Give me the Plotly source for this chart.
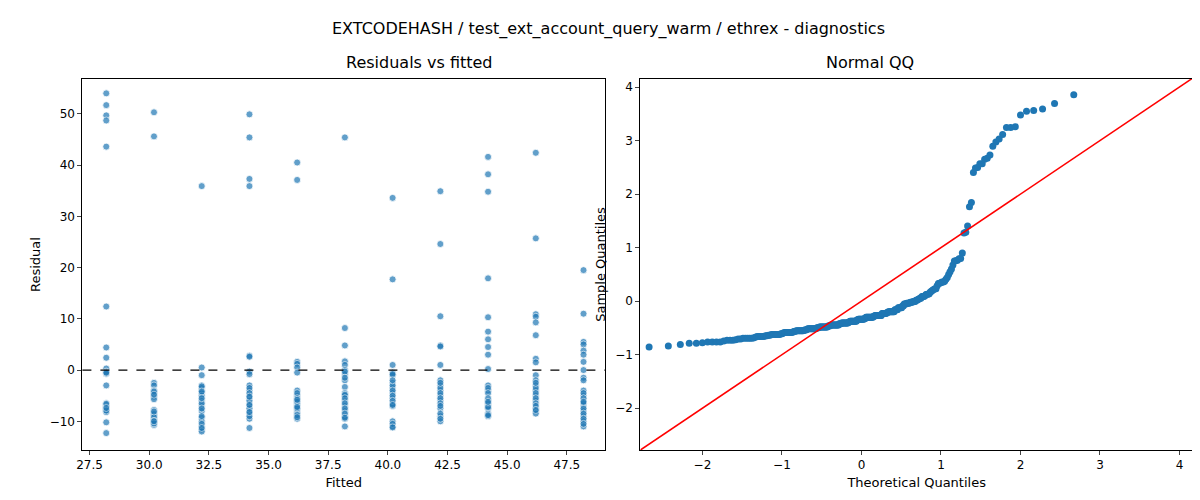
import numpy as np
import plotly.graph_objects as go
from statistics import NormalDist

fitted_levels = [28.2, 30.2, 32.2, 34.2, 36.2, 38.2, 40.2, 42.2, 44.2, 46.2, 48.2]
residual_groups = [
    [54, 51.7, 49.7, 48.7, 43.6, 12.4, 4.4, 2.4, 0.3, -0.3, -0.7, -3, -6.5, -7, -7.5, -8, -10.2, -12.3,
     -6.8, -7.2, -7.7, -8.2, -6.6, -7.9, -0.5, -7.4],
    [50.3, 45.6, -2.5, -3, -4, -4.5, -5.2, -5.7, -7.8, -8.4, -9, -9.7, -10.2, -10.7,
     -4.2, -4.8, -8.6, -9.2, -9.9, -10.4, -10.0, -8.1],
    [35.9, 0.5, -1, -3, -3.5, -4, -4.5, -5, -6, -7, -8, -9.3, -10, -11, -11.6, -12,
     -3.2, -4.2, -6.5, -7.5, -9.0, -10.5, -11.3, -5.5],
    [49.9, 45.4, 37.3, 35.9, 2.8, 2.6, -0.3, -0.8, -3, -4, -5, -5.5, -6.5, -7, -8, -8.5, -9.5, -11.3,
     -3.5, -4.5, -6.0, -7.5, -9.0, -5.2, -6.8, -8.2],
    [40.5, 37.1, 1.6, 1.2, 0.5, -0.5, -4, -5, -6, -6.5, -7, -8, -8.5, -9.5,
     -4.5, -5.5, -6.2, -7.5, -8.8, -9.2, -5.8, -7.2],
    [45.4, 8.2, 4.8, 1.7, 1, 0, -0.8, -2, -3.3, -4.5, -5, -6, -7, -8, -9, -9.5, -11,
     -4.8, -5.5, -6.5, -7.5, -8.5, -9.3, -0.3, -1.5],
    [33.6, 17.7, 1, -0.5, -1, -2.5, -3.5, -4.5, -5.5, -6.5, -7, -10, -11,
     -3.0, -4.0, -5.0, -6.0, -6.8, -10.5, -11.2, -0.8, -2.0],
    [34.9, 24.6, 10.5, 4.8, 1, -2, -3, -4, -5, -6, -7.5, -9, -10,
     -3.5, -4.5, -5.5, -6.5, -7.0, -8.5, -9.5, -2.5, 4.6],
    [41.6, 38.2, 34.8, 17.9, 10.3, 7.5, 6, 4.5, 3, 0.2, -3, -4, -6, -7, -7.5, -8.5, -9,
     -3.5, -4.5, -5.5, -6.5, -7.2, -8.8, -6.2],
    [42.4, 25.7, 10.9, 10.4, 9.3, 6.8, 2.2, 1.5, -1, -2, -3, -4, -5, -6, -7.5, -8, -8.5,
     -3.5, -4.5, -5.5, -6.5, -7.0, -7.8, -2.5],
    [19.5, 11, 5.5, 5, 3.8, 3, 1.6, 0, -1.5, -2, -4, -5, -6, -7, -8, -9, -10, -11,
     -4.5, -5.5, -6.5, -7.5, -8.5, -9.5, -10.5, -6.2],
]

fitted = []
resid = []
for f, g in zip(fitted_levels, residual_groups):
    fitted += [f] * len(g)
    resid += g
resid = np.array(resid, dtype=float)

# Normal QQ from the residuals
z = np.sort((resid - resid.mean()) / resid.std(ddof=1))
n = len(z)
nd = NormalDist()
theo = np.array([nd.inv_cdf((i + 1) / (n + 1)) for i in range(n)])

fig = go.Figure()
fig.add_trace(go.Scatter(x=fitted, y=resid, mode="markers", xaxis="x", yaxis="y",
                         marker=dict(color="#1f77b4", opacity=0.7, size=7,
                                     line=dict(color="white", width=0.8)),
                         showlegend=False))
fig.add_trace(go.Scatter(x=theo, y=z, mode="markers", xaxis="x2", yaxis="y2",
                         marker=dict(color="#1f77b4", size=7), showlegend=False))
fig.add_trace(go.Scatter(x=[-2.78, 4.17], y=[-2.78, 4.17], mode="lines", xaxis="x2", yaxis="y2",
                         line=dict(color="red", width=1.6), showlegend=False))

ax = dict(showgrid=False, zeroline=False, showline=True, linecolor="black", mirror=True,
          ticks="outside", ticklen=4, tickfont=dict(size=12, color="black"), automargin=False)
fig.update_layout(
    width=1200, height=500, plot_bgcolor="white", paper_bgcolor="white",
    margin=dict(l=0, r=0, t=0, b=0),
    font=dict(family="DejaVu Sans", color="black"),
    xaxis=dict(domain=[0.062, 0.4975], range=[27.2, 49.1], dtick=2.5, tickformat=".1f",
               title=dict(text="Fitted", font=dict(size=13), standoff=6), **ax),
    yaxis=dict(domain=[0.116, 0.858], range=[-15.6, 56.8], dtick=10,
               title=dict(text="Residual", font=dict(size=13), standoff=6), **ax),
    xaxis2=dict(domain=[0.527, 0.9875], range=[-2.78, 4.17], dtick=1, anchor="y2",
                title=dict(text="Theoretical Quantiles", font=dict(size=13), standoff=6), **ax),
    yaxis2=dict(domain=[0.116, 0.858], range=[-2.78, 4.15], dtick=1, anchor="x2",
                title=dict(text="Sample Quantiles", font=dict(size=13), standoff=6), **ax),
    shapes=[dict(type="line", xref="x domain", yref="y", x0=0, x1=1, y0=0, y1=0,
                 line=dict(color="black", width=1.2, dash="dash"))],
    annotations=[
        dict(text="EXTCODEHASH / test_ext_account_query_warm / ethrex - diagnostics", x=0.5, y=0.982,
             xref="paper", yref="paper", showarrow=False, yanchor="top", font=dict(size=16)),
        dict(text="Residuals vs fitted", x=0.28, y=0.868, xref="paper", yref="paper",
             showarrow=False, yanchor="bottom", font=dict(size=16)),
        dict(text="Normal QQ", x=0.757, y=0.868, xref="paper", yref="paper",
             showarrow=False, yanchor="bottom", font=dict(size=16)),
    ],
)
fig.write_html("out.html")
